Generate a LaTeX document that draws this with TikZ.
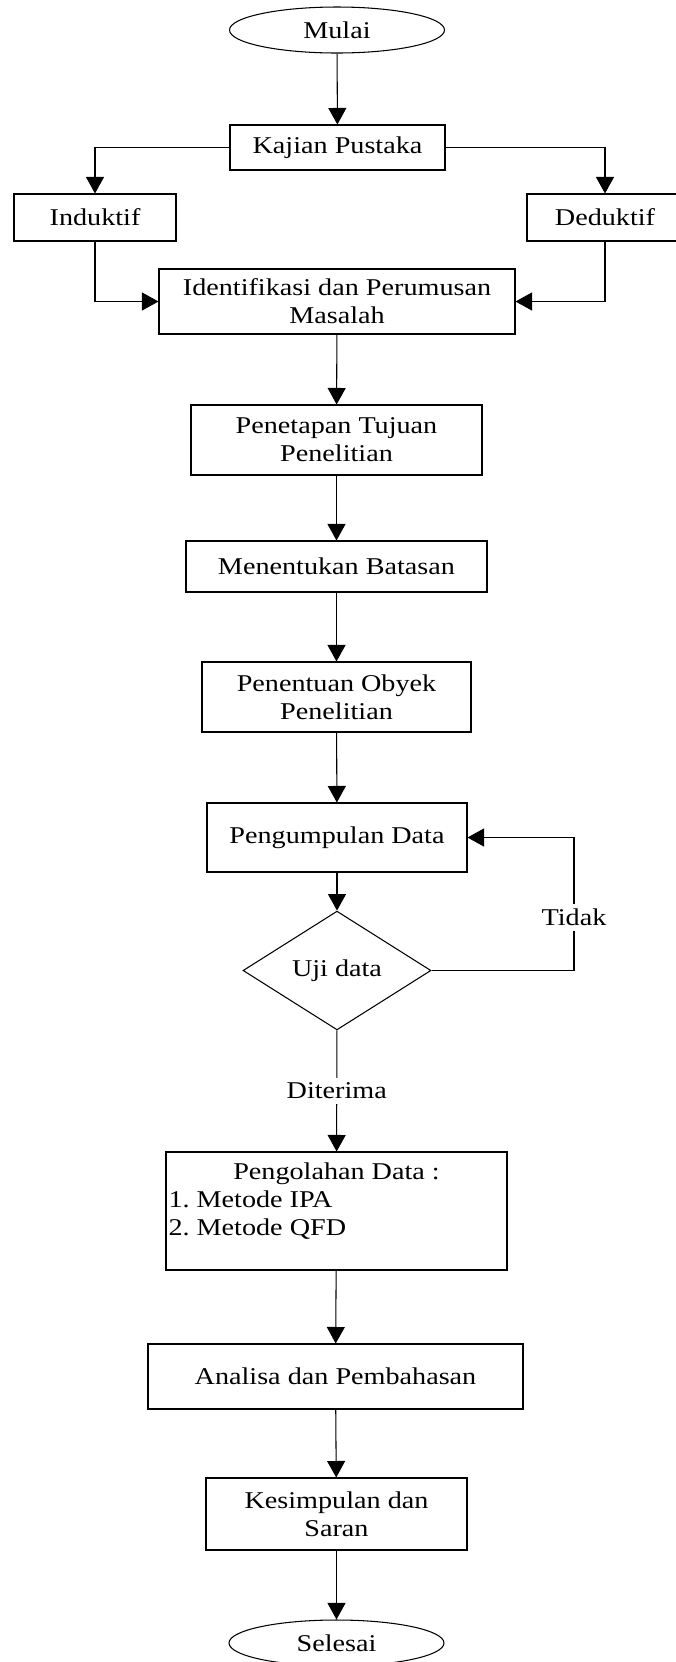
\documentclass[tikz,border=0pt]{standalone}
\usepackage{fontspec}
\setmainfont{Liberation Serif}[FakeStretch=1.17]
\usetikzlibrary{shapes.geometric,arrows.meta}
\frenchspacing

\begin{document}
\begin{tikzpicture}[
      font=\fontsize{13.7}{16}\selectfont,
      process/.style={draw, line width=0.6pt, align=center, inner sep=1pt},
      decision/.style={draw, line width=0.6pt, diamond, align=center, inner sep=1pt},
      terminal/.style={draw, line width=0.6pt, ellipse, inner sep=0pt},
      answer/.style={fill=white, inner sep=3pt},
      arrowstyle/.style={-{Triangle[length=0.33cm,width=0.36cm]}, line width=0.6pt}
    ]
    \useasboundingbox (0,0) rectangle (13.5,-33.24);

    \node[terminal, minimum width=4.3cm, minimum height=0.92cm] (mulai) at (6.74,-0.60) {Mulai};
    \node[process, minimum width=4.3cm, minimum height=0.9cm] (kajian) at (6.75,-2.95) {Kajian Pustaka};
    \node[process, minimum width=3.24cm, minimum height=0.94cm] (induktif) at (1.90,-4.35) {Induktif};
    \node[process, minimum width=3.12cm, minimum height=0.94cm] (deduktif) at (12.10,-4.35) {Deduktif};
    \node[process, minimum width=7.12cm, minimum height=1.3cm] (identifikasi) at (6.74,-6.03) {Identifikasi dan Perumusan\\Masalah};
    \node[process, minimum width=5.82cm, minimum height=1.4cm] (tujuan) at (6.73,-8.80) {Penetapan Tujuan\\Penelitian};
    \node[process, minimum width=6.02cm, minimum height=1.02cm] (batasan) at (6.73,-11.33) {Menentukan Batasan};
    \node[process, minimum width=5.38cm, minimum height=1.4cm] (obyek) at (6.73,-13.94) {Penentuan Obyek\\Penelitian};
    \node[process, minimum width=5.2cm, minimum height=1.38cm] (pengumpulan) at (6.74,-16.75) {Pengumpulan Data};
    \node[decision, minimum width=3.76cm, minimum height=1.94cm] (uji) at (6.74,-19.41) {Uji data};
    \node[process, minimum width=6.82cm, minimum height=2.36cm, inner xsep=0.05cm] (pengolahan) at (6.73,-24.22)
      {\parbox{6.72cm}{\centering Pengolahan Data :\par\raggedright 1. Metode IPA\par 2. Metode QFD\par\vspace{0.4cm}}};
    \node[process, minimum width=7.5cm, minimum height=1.3cm] (analisa) at (6.71,-27.53) {Analisa dan Pembahasan};
    \node[process, minimum width=5.22cm, minimum height=1.44cm] (kesimpulan) at (6.73,-30.28) {Kesimpulan dan\\Saran};
    \node[terminal, minimum width=4.3cm, minimum height=0.92cm] (selesai) at (6.73,-32.86) {Selesai};
    \coordinate (tidakturn) at (11.48,-19.41);

    \draw[arrowstyle] (mulai) -- (kajian);
    \draw[arrowstyle] (kajian) -| (induktif);
    \draw[arrowstyle] (kajian) -| (deduktif);
    \draw[arrowstyle] (induktif) |- (identifikasi);
    \draw[arrowstyle] (deduktif) |- (identifikasi);
    \draw[arrowstyle] (identifikasi) -- (tujuan);
    \draw[arrowstyle] (tujuan) -- (batasan);
    \draw[arrowstyle] (batasan) -- (obyek);
    \draw[arrowstyle] (obyek) -- (pengumpulan);
    \draw[arrowstyle] (pengumpulan) -- (uji);
    \draw[arrowstyle] (uji.east) -- (tidakturn) |- node[answer, pos=0.2]{Tidak} (pengumpulan.east);
    \draw[arrowstyle] (uji) -- node[answer]{Diterima} (pengolahan);
    \draw[arrowstyle] (pengolahan) -- (analisa);
    \draw[arrowstyle] (analisa) -- (kesimpulan);
    \draw[arrowstyle] (kesimpulan) -- (selesai);
  \end{tikzpicture}
\end{document}
